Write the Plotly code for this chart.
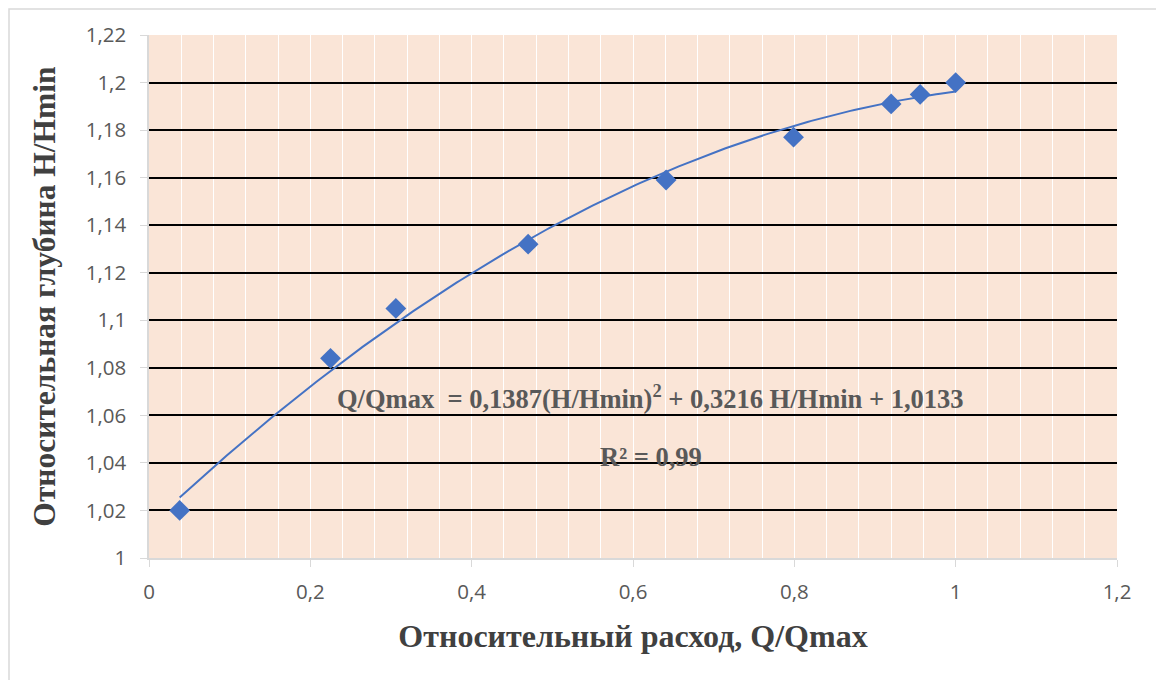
import numpy as np
import plotly.graph_objects as go

# Data
q_rel = [0.038, 0.225, 0.306, 0.470, 0.641, 0.799, 0.920, 0.956, 1.000]
h_rel = [1.020, 1.084, 1.105, 1.132, 1.159, 1.177, 1.191, 1.195, 1.200]

x_tickvals = [0, 0.2, 0.4, 0.6, 0.8, 1.0, 1.2]
x_ticktext = ["0", "0,2", "0,4", "0,6", "0,8", "1", "1,2"]
y_tickvals = [1.0, 1.02, 1.04, 1.06, 1.08, 1.1, 1.12, 1.14, 1.16, 1.18, 1.2, 1.22]
y_ticktext = ["1", "1,02", "1,04", "1,06", "1,08", "1,1", "1,12", "1,14", "1,16", "1,18", "1,2", "1,22"]

eq_text = "Q/Qmax  = 0,1387(H/Hmin)<sup>2</sup> + 0,3216 H/Hmin + 1,0133"
r2_text = "R² = 0,99"

# Polynomial trendline (order 2), as in the spreadsheet
coef = np.polyfit(q_rel, h_rel, 2)
xt = np.linspace(min(q_rel), max(q_rel), 200)
yt = np.polyval(coef, xt)

blue = "#4472C4"
fig = go.Figure()
fig.add_trace(go.Scatter(x=xt, y=yt, mode="lines", line=dict(color=blue, width=2),
                         hoverinfo="skip", showlegend=False))
fig.add_trace(go.Scatter(x=q_rel, y=h_rel, mode="markers",
                         marker=dict(symbol="diamond", size=16, color=blue),
                         showlegend=False))

serif = "Liberation Serif, Times New Roman, serif"
sans = "Open Sans, Liberation Sans, sans-serif"

fig.add_annotation(x=0.622, y=1.0677, xref="x", yref="y", text="<b>" + eq_text + "</b>",
                   showarrow=False, font=dict(family=serif, size=26.5, color="#595959"))
fig.add_annotation(x=0.622, y=1.0425, xref="x", yref="y", text="<b>" + r2_text + "</b>",
                   showarrow=False, font=dict(family=serif, size=26.5, color="#595959"))

# outer chart border
fig.add_shape(type="rect", xref="paper", yref="paper",
              x0=-140 / 968, x1=(1152 - 141) / 968,
              y0=(523 - 671) / 523, y1=(523 + 27 - 1) / 523,
              line=dict(color="#D9D9D9", width=1.5), layer="below")

fig.update_layout(
    width=1156, height=672,
    margin=dict(l=141, r=47, t=27, b=122),
    paper_bgcolor="white", plot_bgcolor="#FAE5D7",
    separators=", ",
    showlegend=False,
    xaxis=dict(range=[0, 1.2], tickvals=x_tickvals, ticktext=x_ticktext,
               showgrid=True, gridcolor="white", gridwidth=1,
               minor=dict(dtick=0.04, tick0=0, showgrid=True, gridcolor="white", gridwidth=1),
               showline=True, linecolor="#D9D9D9", linewidth=1.5,
               ticks="outside", ticklen=7, tickcolor="#D9D9D9",
               ticklabelstandoff=8,
               tickfont=dict(family=sans, size=20.5, color="#595959"),
               zeroline=False,
               title=dict(text="<b>Относительный расход, Q/Qmax</b>", standoff=20,
                          font=dict(family=serif, size=32, color="#404040"))),
    yaxis=dict(range=[1.0, 1.22], tickvals=y_tickvals, ticktext=y_ticktext,
               showgrid=True, gridcolor="black", gridwidth=2,
               showline=True, linecolor="#D9D9D9", linewidth=1.5,
               ticks="outside", ticklen=7, tickcolor="#D9D9D9",
               ticklabelstandoff=10,
               tickfont=dict(family=sans, size=20.5, color="#595959"),
               zeroline=False,
               title=dict(text="<b>Относительная глубина H/Hmin</b>", standoff=21,
                          font=dict(family=serif, size=31.5, color="#404040"))),
)

fig.write_html("out.html")
